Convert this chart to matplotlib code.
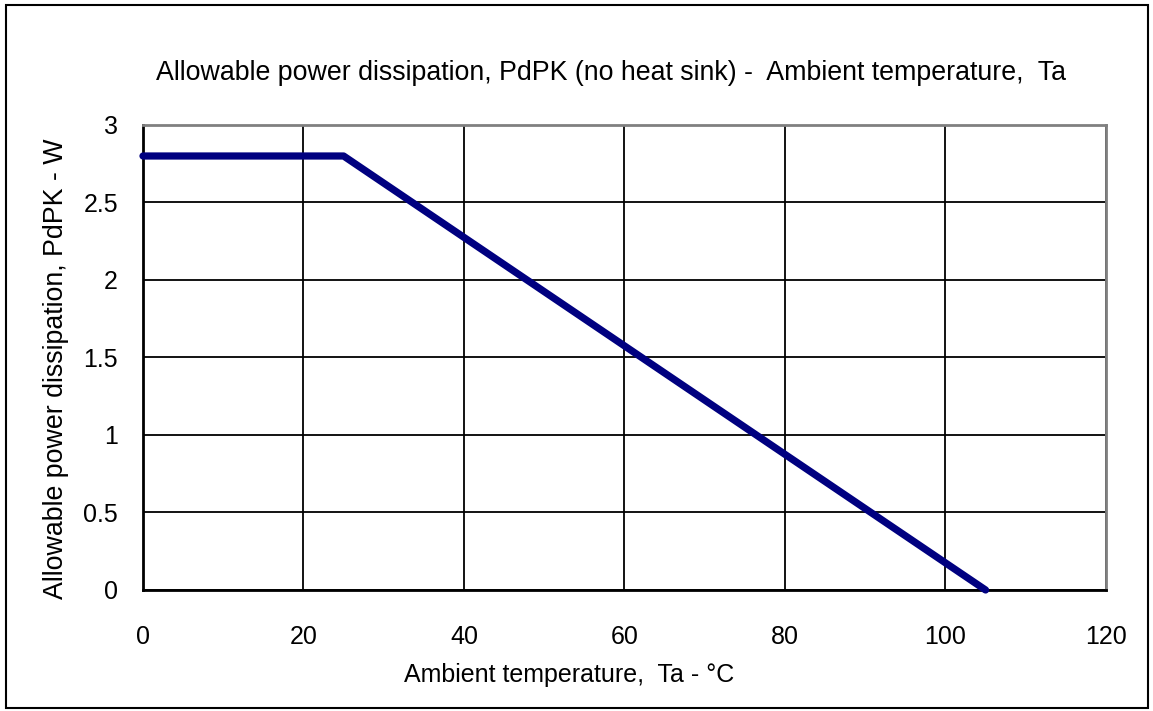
import matplotlib
matplotlib.use("Agg")
import matplotlib.pyplot as plt
from matplotlib.patches import Rectangle

plt.rcParams['font.family'] = ['Liberation Sans', 'DejaVu Sans']

# derating curve
temp = [0, 25, 105]
power = [2.8, 2.8, 0]
x_ticks = [0, 20, 40, 60, 80, 100, 120]
y_ticks = [0, 0.5, 1, 1.5, 2, 2.5, 3]
y_labels = ['0', '0.5', '1', '1.5', '2', '2.5', '3']

fig = plt.figure(figsize=(11.53, 7.11), dpi=100)
ax = fig.add_axes([0.124, 0.1702, 0.8352, 0.654])

ax.plot(temp, power, color='#000080', linewidth=5.2, solid_capstyle='round', zorder=3, clip_on=False)

ax.set_xlim(0, 120)
ax.set_ylim(0, 3)
ax.set_xticks(x_ticks)
ax.set_yticks(y_ticks)
ax.set_yticklabels(y_labels)
ax.grid(True, color='black', linewidth=1.3)
ax.tick_params(length=0, labelsize=18)
ax.tick_params(axis='x', pad=25)
ax.tick_params(axis='y', pad=18)

for side in ['left', 'bottom']:
    ax.spines[side].set_color('black')
    ax.spines[side].set_linewidth(2)
for side in ['top', 'right']:
    ax.spines[side].set_color('#808080')
    ax.spines[side].set_linewidth(2)

ax.set_xlabel('Ambient temperature,  Ta - °C', fontsize=18, labelpad=10, x=0.443)
ax.set_ylabel('Allowable power dissipation, PdPK - W', fontsize=19.3, labelpad=10, y=0.476)
fig.text(0.53, 0.898, 'Allowable power dissipation, PdPK (no heat sink) -  Ambient temperature,  Ta',
         ha='center', va='center', fontsize=19.3)

# outer frame
fig.patches.append(Rectangle((0.005, 0.004), 0.991, 0.989, transform=fig.transFigure,
                             fill=False, edgecolor='black', linewidth=1.5))

fig.savefig('out.png', dpi=100)
